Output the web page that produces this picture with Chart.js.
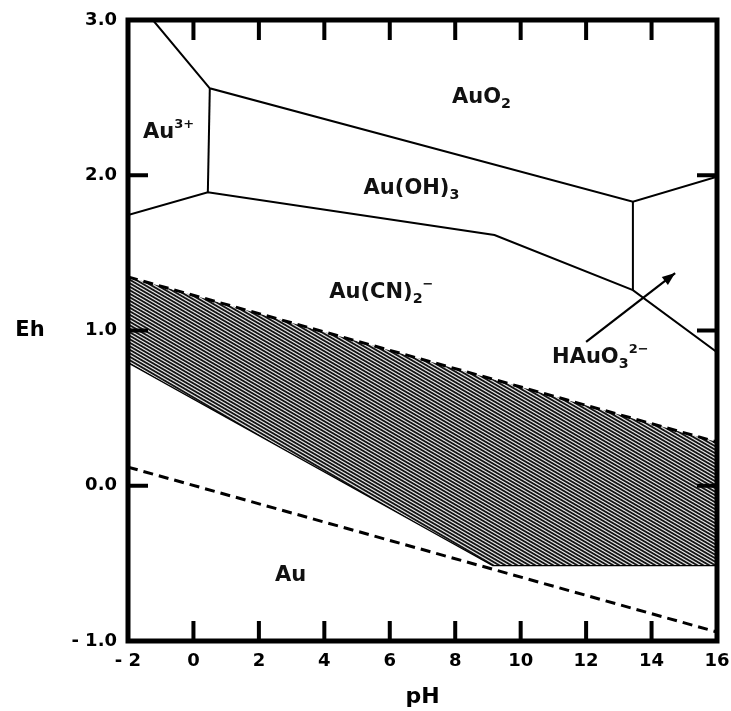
<!DOCTYPE html>
<html><head><meta charset="utf-8">
<script src="https://cdn.jsdelivr.net/npm/chart.js@4.4.1/dist/chart.umd.min.js"></script>
<style>html,body{margin:0;padding:0;background:#fff}#wrap{width:731px;height:711px;position:relative}</style>
</head><body><div id="wrap"><canvas id="c"></canvas></div>
<script>
// ---- data ----
const xTickValues = [-2, 0, 2, 4, 6, 8, 10, 12, 14, 16];
const xTickLabels = ['- 2', '0', '2', '4', '6', '8', '10', '12', '14', '16'];
const yTickValues = [-1, 0, 1, 2, 3];
const yTickLabels = ['- 1.0', '0.0', '1.0', '2.0', '3.0'];

const waterUpperPH = [-2, 16];
const waterUpperEh = [1.345, 0.282];
const auCyanidePH = [-2, 9.15, 16];
const auCyanideEh = [0.797, -0.51, -0.51];
const waterLowerPH = [-2, 16];
const waterLowerEh = [0.12, -0.942];
const auo2BoundPH = [-1.24, 0.5, 13.43, 16];
const auo2BoundEh = [3.0, 2.56, 1.83, 1.99];
const au3BoundPH = [0.5, 0.44];
const au3BoundEh = [2.56, 1.89];
const cnBoundPH = [-2, 0.44, 9.2, 13.43, 16];
const cnBoundEh = [1.744, 1.89, 1.615, 1.26, 0.86];
const hauBoundPH = [13.43, 13.43];
const hauBoundEh = [1.83, 1.26];
const arrowPH = [12.0, 14.72];
const arrowEh = [0.926, 1.37];

const speciesParts = [
  [['Au', ''], ['3+', 'sup']],
  [['AuO', ''], ['2', 'sub']],
  [['Au(OH)', ''], ['3', 'sub']],
  [['Au(CN)', ''], ['2', 'sub'], ['\u2212', 'sup']],
  [['Au', '']],
  [['HAuO', ''], ['3', 'sub'], ['2\u2212', 'sup']]
];
const speciesPH = [-1.54, 7.9, 5.2, 4.15, 2.49, 10.96];
const speciesEh = [2.29, 2.517, 1.931, 1.261, -0.562, 0.842];

// ---- helpers ----
const FONT = '"DejaVu Sans", Verdana, sans-serif';
const zip = (xs, ys) => xs.map((x, i) => ({x: x, y: ys[i]}));

function makeHatch(ctx) {
  const W = 12, H = 7;
  const c = document.createElement('canvas');
  c.width = W; c.height = H;
  const g = c.getContext('2d');
  const img = g.createImageData(W, H);
  for (let y = 0; y < H; y++) {
    for (let x = 0; x < W; x++) {
      let s = 0;
      for (let sy = 0; sy < 4; sy++) for (let sx = 0; sx < 4; sx++) {
        const px = x + (sx + 0.5) / 4, py = y + (sy + 0.5) / 4;
        const ph = 2 * (-7 * px + 12 * py) / 84;
        const f = ph - Math.floor(ph);
        s += (f < 0.6) ? 1 : 0;
      }
      const v = Math.round(225 - (s / 16) * 205);
      const k = (y * W + x) * 4;
      img.data[k] = v; img.data[k + 1] = v; img.data[k + 2] = v; img.data[k + 3] = 255;
    }
  }
  g.putImageData(img, 0, 0);
  return ctx.createPattern(c, 'repeat');
}

function drawRich(ctx, parts, x, yc, size) {
  let cx = x;
  const base = yc + 0.3645 * size;
  for (const [t, kind] of parts) {
    let fs = size, dy = 0;
    if (kind === 'sub') { fs = size * 0.68; dy = size * 0.26; }
    else if (kind === 'sup') { fs = size * 0.62; dy = -size * 0.45; }
    ctx.font = 'bold ' + fs + 'px ' + FONT;
    ctx.fillText(t, cx, base + dy);
    cx += ctx.measureText(t).width;
  }
}

const overlay = {
  id: 'overlay',
  afterDatasetsDraw(chart) {
    const ctx = chart.ctx;
    const xs = chart.scales.x, ys = chart.scales.y;
    const a = chart.chartArea;
    ctx.save();
    // arrow head
    const meta = chart.getDatasetMeta(chart.data.datasets.length - 1);
    const p0 = meta.data[0], p1 = meta.data[1];
    const ang = Math.atan2(p1.y - p0.y, p1.x - p0.x);
    const L = 13, Wd = 5;
    ctx.fillStyle = '#000';
    ctx.beginPath();
    ctx.moveTo(p1.x, p1.y);
    ctx.lineTo(p1.x - L * Math.cos(ang) + Wd * Math.sin(ang), p1.y - L * Math.sin(ang) - Wd * Math.cos(ang));
    ctx.lineTo(p1.x - L * Math.cos(ang) - Wd * Math.sin(ang), p1.y - L * Math.sin(ang) + Wd * Math.cos(ang));
    ctx.closePath();
    ctx.fill();
    // species labels
    ctx.fillStyle = '#111';
    ctx.textAlign = 'left';
    ctx.textBaseline = 'alphabetic';
    speciesParts.forEach((parts, i) => {
      drawRich(ctx, parts, xs.getPixelForValue(speciesPH[i]), ys.getPixelForValue(speciesEh[i]), 21);
    });
    // inner ticks
    ctx.strokeStyle = '#000';
    ctx.lineWidth = 4;
    ctx.lineCap = 'butt';
    const TL = 20;
    ctx.beginPath();
    xTickValues.forEach(v => {
      const px = xs.getPixelForValue(v);
      ctx.moveTo(px, a.bottom); ctx.lineTo(px, a.bottom - TL);
      ctx.moveTo(px, a.top); ctx.lineTo(px, a.top + TL);
    });
    yTickValues.forEach(v => {
      const py = ys.getPixelForValue(v);
      ctx.moveTo(a.left, py); ctx.lineTo(a.left + TL, py);
      ctx.moveTo(a.right, py); ctx.lineTo(a.right - TL, py);
    });
    ctx.stroke();
    // frame
    ctx.lineWidth = 5;
    ctx.lineJoin = 'miter';
    ctx.strokeRect(a.left, a.top, a.right - a.left, a.bottom - a.top);
    // Eh axis title (horizontal)
    ctx.fillStyle = '#000';
    ctx.font = 'bold 21px ' + FONT;
    ctx.textAlign = 'center';
    ctx.textBaseline = 'middle';
    ctx.fillText('Eh', 30, ys.getPixelForValue(1.0));
    ctx.restore();
  }
};

const canvas = document.getElementById('c');
const ctx = canvas.getContext('2d');
const hatch = makeHatch(ctx);
Chart.defaults.font.family = FONT;

const solid = (data, w) => ({data: data, borderColor: '#000', borderWidth: w, pointRadius: 0, fill: false, tension: 0});

new Chart(canvas, {
  type: 'line',
  data: {
    datasets: [
      {data: zip(waterUpperPH, waterUpperEh), borderColor: '#000', borderWidth: 3, borderDash: [10, 6],
        pointRadius: 0, fill: '+1', backgroundColor: hatch, tension: 0},
      solid(zip(auCyanidePH, auCyanideEh), 2.5),
      {data: zip(waterLowerPH, waterLowerEh), borderColor: '#000', borderWidth: 3, borderDash: [10, 6],
        pointRadius: 0, fill: false, tension: 0},
      solid(zip(auo2BoundPH, auo2BoundEh), 2),
      solid(zip(au3BoundPH, au3BoundEh), 2),
      solid(zip(cnBoundPH, cnBoundEh), 2),
      solid(zip(hauBoundPH, hauBoundEh), 2),
      solid(zip(arrowPH, arrowEh), 2.2)
    ]
  },
  options: {
    responsive: true,
    maintainAspectRatio: false,
    animation: false,
    layout: {padding: {top: 20, right: 14, left: 0, bottom: 0}},
    plugins: {legend: {display: false}, tooltip: {enabled: false}},
    scales: {
      x: {
        type: 'linear', min: -2, max: 16,
        afterBuildTicks: s => { s.ticks = xTickValues.map(v => ({value: v})); },
        ticks: {callback: v => xTickLabels[xTickValues.indexOf(v)], font: {size: 18, weight: 'bold'},
          color: '#000', padding: 10, maxRotation: 0, autoSkip: false},
        grid: {display: false, drawTicks: false},
        border: {display: false},
        title: {display: true, text: 'pH', font: {size: 22, weight: 'bold'}, color: '#000', padding: {top: 0, bottom: 1}},
        afterFit: s => { s.height = 70; s.paddingLeft = 0; s.paddingRight = 0; }
      },
      y: {
        type: 'linear', min: -1, max: 3,
        afterBuildTicks: s => { s.ticks = yTickValues.map(v => ({value: v})); },
        ticks: {callback: v => yTickLabels[yTickValues.indexOf(v)], font: {size: 18, weight: 'bold'},
          color: '#000', padding: 11, autoSkip: false},
        grid: {display: false, drawTicks: false},
        border: {display: false},
        afterFit: s => { s.width = 128; s.paddingTop = 0; s.paddingBottom = 0; }
      }
    }
  },
  plugins: [overlay]
});
</script></body></html>
